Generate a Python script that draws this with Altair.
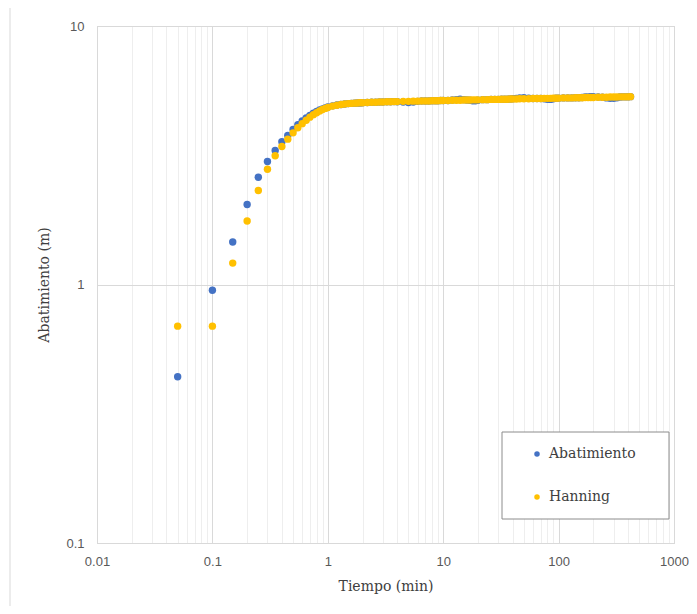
import altair as alt
import pandas as pd

# ---- data ----
TIME = [0.05, 0.1, 0.15, 0.2, 0.25, 0.3, 0.35, 0.4, 0.45, 0.5,
        0.55, 0.6, 0.65, 0.7, 0.75, 0.8, 0.85, 0.9, 0.95, 1.0,
        1.1, 1.2, 1.3, 1.4, 1.5, 1.6, 1.7, 1.8, 1.9, 2.0,
        2.2, 2.4, 2.6, 2.8, 3.0, 3.25, 3.5, 3.75, 4.0, 4.5, 5.0, 5.5,
        6, 6.5, 7, 7.5, 8, 8.5, 9, 9.5, 10,
        11, 12, 13, 14, 15, 16, 17, 18, 19, 20,
        22, 24, 26, 28, 30, 32, 34, 36, 38, 40, 43, 46, 50,
        55, 60, 65, 70, 75, 80, 85, 90, 95, 100,
        110, 120, 130, 140, 150, 160, 170, 180, 190, 200,
        220, 240, 260, 280, 300, 320, 340, 360, 380, 400, 420]

ABATIMIENTO = [0.44, 0.95, 1.46, 2.04, 2.60, 2.99, 3.30, 3.57, 3.77, 3.98,
               4.15, 4.29, 4.41, 4.51, 4.60, 4.67, 4.73, 4.78, 4.82, 4.86,
               4.91, 4.95, 4.97, 4.99, 5.01, 5.02, 5.03, 5.04, 5.04, 5.05,
               5.06, 5.07, 5.07, 5.08, 5.08, 5.09, 5.09, 5.10, 5.09, 5.08, 5.06, 5.08,
               5.11, 5.13, 5.13, 5.13, 5.14, 5.14, 5.14, 5.15, 5.15,
               5.15, 5.17, 5.19, 5.21, 5.19, 5.17, 5.16, 5.14, 5.14, 5.16,
               5.19, 5.19, 5.20, 5.20, 5.20, 5.21, 5.21, 5.21, 5.22, 5.23, 5.25, 5.27, 5.28,
               5.26, 5.24, 5.24, 5.24, 5.23, 5.21, 5.20, 5.23, 5.26, 5.26,
               5.27, 5.27, 5.27, 5.28, 5.28, 5.29, 5.31, 5.32, 5.33, 5.33,
               5.31, 5.30, 5.27, 5.25, 5.25, 5.28, 5.31, 5.32, 5.32, 5.32, 5.33]

HANNING = [0.69, 0.69, 1.21, 1.76, 2.31, 2.79, 3.15, 3.42, 3.65, 3.86,
           4.04, 4.19, 4.32, 4.44, 4.54, 4.62, 4.69, 4.75, 4.80, 4.84,
           4.90, 4.94, 4.97, 4.99, 5.01, 5.02, 5.03, 5.04, 5.05, 5.05,
           5.06, 5.07, 5.07, 5.08, 5.08, 5.09, 5.09, 5.10, 5.10, 5.11, 5.11, 5.12,
           5.12, 5.13, 5.13, 5.13, 5.14, 5.14, 5.14, 5.15, 5.15,
           5.15, 5.16, 5.16, 5.16, 5.17, 5.17, 5.17, 5.18, 5.18, 5.18,
           5.19, 5.19, 5.20, 5.20, 5.20, 5.21, 5.21, 5.21, 5.22, 5.22, 5.22, 5.23, 5.23,
           5.23, 5.24, 5.24, 5.24, 5.25, 5.25, 5.25, 5.26, 5.26, 5.26,
           5.27, 5.27, 5.27, 5.28, 5.28, 5.28, 5.29, 5.29, 5.29, 5.29,
           5.30, 5.30, 5.30, 5.31, 5.31, 5.31, 5.32, 5.32, 5.32, 5.32, 5.33]

SERIES = ["Abatimiento", "Hanning"]
COLORS = ["#4472C4", "#FFC000"]

X_DECADES = [0.01, 0.1, 1, 10, 100, 1000]
Y_DECADES = [0.1, 1, 10]
X_GRID = [round(d * k, 6) for d in X_DECADES[:-1] for k in range(1, 10)] + [1000]

df = pd.concat([
    pd.DataFrame({"t": TIME, "v": ABATIMIENTO, "s": SERIES[0]}),
    pd.DataFrame({"t": TIME, "v": HANNING, "s": SERIES[1]}),
], ignore_index=True)

dec_test_x = "indexof([0.01,0.1,1,10,100,1000], datum.value) >= 0"

LABEL_FONT = "Liberation Sans"
TITLE_FONT = "DejaVu Serif"

points = alt.Chart(df).mark_point(filled=True, opacity=1, size=55, shape="circle").encode(
    x=alt.X("t:Q", title="Tiempo (min)",
            scale=alt.Scale(type="log", domain=[0.01, 1000], nice=False),
            axis=alt.Axis(values=X_GRID, labelExpr=dec_test_x + " ? '' + datum.value : ''",
                          labelOverlap=False, labelFlush=False, ticks=False, domain=False,
                          gridColor={"condition": {"test": dec_test_x, "value": "#d9d9d9"},
                                     "value": "#eeeeee"},
                          labelFont=LABEL_FONT, labelFontSize=13, labelColor="#595959",
                          labelPadding=12, titleFont=TITLE_FONT, titleFontSize=14,
                          titleFontWeight="normal", titleColor="#404040", titlePadding=11)),
    y=alt.Y("v:Q", title="Abatimiento (m)",
            scale=alt.Scale(type="log", domain=[0.1, 10], nice=False),
            axis=alt.Axis(values=Y_DECADES, labelExpr="'' + datum.value",
                          labelOverlap=False, labelFlush=False, ticks=False, domain=False,
                          gridColor="#d9d9d9",
                          labelFont=LABEL_FONT, labelFontSize=13, labelColor="#595959",
                          labelPadding=13, titleFont=TITLE_FONT, titleFontSize=14,
                          titleFontWeight="normal", titleColor="#404040", titlePadding=14)),
    color=alt.Color("s:N", scale=alt.Scale(domain=SERIES, range=COLORS),
                    legend=alt.Legend(title=None, orient="none", legendX=405, legendY=406,
                                      padding=15, symbolOffset=13,
                                      labelOffset=5, rowPadding=29, symbolType="circle",
                                      symbolSize=30, labelFont=TITLE_FONT, labelFontSize=14,
                                      labelColor="#404040")),
)

# chart-area border and legend box (decoration)
border = alt.Chart(alt.Data(values=[{}])).mark_rect(
    fill="white", fillOpacity=0, stroke="#d9d9d9", strokeWidth=1
).encode(x=alt.value(-87), x2=alt.value(900), y=alt.value(-21), y2=alt.value(900))

legend_box = alt.Chart(alt.Data(values=[{}])).mark_rect(
    fill="white", stroke="#8c8c8c", strokeWidth=1
).encode(x=alt.value(405), x2=alt.value(572), y=alt.value(406), y2=alt.value(493))

chart = alt.layer(border, legend_box, points).properties(
    width=577, height=517,
    autosize=alt.AutoSizeParams(type="none"),
    padding={"left": 89, "top": 18, "right": 15, "bottom": 63},
    background="white",
).configure_view(stroke="#d0d0d0", strokeWidth=1)

chart.save("out.html", embed_options={"renderer": "svg", "actions": False})
